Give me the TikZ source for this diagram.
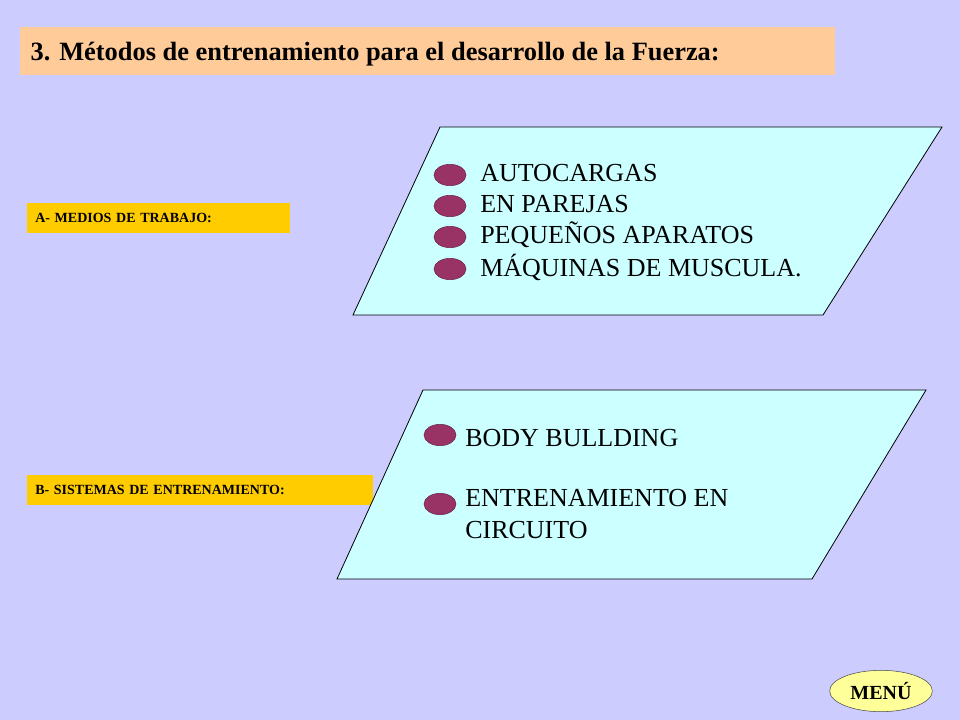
\documentclass[tikz,border=0pt]{standalone}
\usepackage{fontspec}
\setmainfont{Liberation Serif}
\usetikzlibrary{shapes.geometric}
\definecolor{bgblue}{RGB}{204,204,255}
\definecolor{titlefill}{RGB}{255,204,153}
\definecolor{tagfill}{RGB}{255,204,0}
\definecolor{panelfill}{RGB}{204,255,255}
\definecolor{dotfill}{RGB}{153,51,102}
\definecolor{menufill}{RGB}{255,255,153}
\tikzset{
  tagbox/.style={fill=tagfill, anchor=west, align=left, font=\bfseries\fontsize{10.5}{12}\selectfont, inner xsep=6pt},
  dot/.style={ellipse, fill=dotfill, draw=dotfill!70!black, minimum width=24pt, minimum height=16pt, inner sep=0pt},
  item/.style={anchor=west, font=\fontsize{19.5}{22}\selectfont, inner sep=0pt},
  panel/.style={fill=panelfill, draw=black, line width=0.6pt}
}
\begin{document}
\begin{tikzpicture}[x=0.75pt,y=-0.75pt]
  \useasboundingbox[fill=bgblue] (0,0) rectangle (960,720);

  % title
  \fill[titlefill] (20,27) rectangle (835,75);
  \node[anchor=west, font=\bfseries\fontsize{19.8}{22}\selectfont] (title) at (26,54) {3. Métodos de entrenamiento para el desarrollo de la Fuerza:};

  % tags
  \node[tagbox, text width=185pt, minimum height=22.5pt] (medios) at (27,218) {A- MEDIOS DE TRABAJO:};
  \node[tagbox, text width=247pt, minimum height=22.5pt] (sistemas) at (27,490) {B- SISTEMAS DE ENTRENAMIENTO:};

  % panels
  \draw[panel] (353,315) -- (440,127) -- (942,127) -- (823,315) -- cycle;
  \draw[panel] (337,579) -- (423,390) -- (926,390) -- (812,579) -- cycle;

  % first list
  \foreach \y/\txt [count=\i] in {175/AUTOCARGAS, 206/EN PAREJAS, 237/PEQUEÑOS APARATOS, 269/MÁQUINAS DE MUSCULA.}{
    \node[dot] (a\i) at (450,\y) {};
    \node[item] (ta\i) at (480,\y-2) {\txt};
  }

  % second list
  \node[dot] (b1) at (440,435) {};
  \node[item] (tb1) at (465,438) {BODY BULLDING};
  \node[dot] (b2) at (440,504) {};
  \node[item, align=left, anchor=north west] (tb2) at (465,489) {ENTRENAMIENTO EN\\[2pt]CIRCUITO};

  % menu
  \node[ellipse, fill=menufill, draw=black!70, minimum width=77pt, minimum height=31pt, font=\bfseries\fontsize{15}{17}\selectfont] (menu) at (881,691) {MENÚ};
\end{tikzpicture}
\end{document}
